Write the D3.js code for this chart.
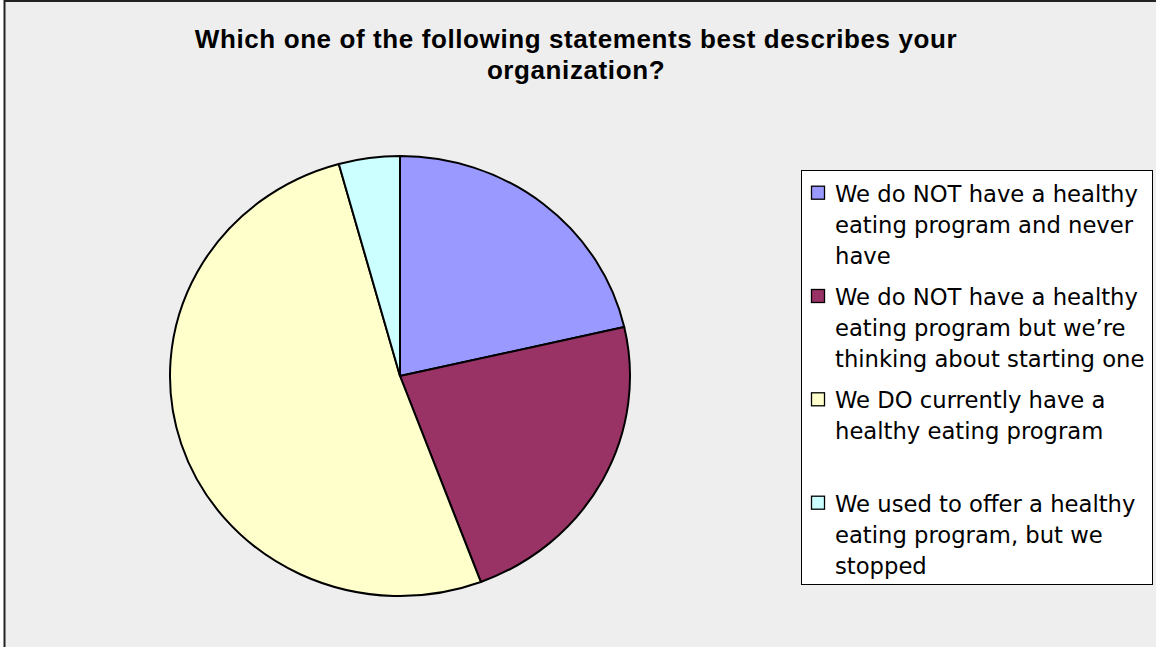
<!DOCTYPE html>
<html>
<head>
<meta charset="utf-8">
<script src="https://cdn.jsdelivr.net/npm/d3@7"></script>
<style>
  html, body { margin: 0; padding: 0; background: #ffffff; }
  svg { display: block; }
</style>
</head>
<body>
<svg id="chart" width="1156" height="647"></svg>
<script>
// Survey responses (counts)
const categories = [
  "We do NOT have a healthy eating program and never have",
  "We do NOT have a healthy eating program but we\u2019re thinking about starting one",
  "We DO currently have a healthy eating program",
  "We used to offer a healthy eating program, but we stopped"
];
const legendLines = [
  ["We do NOT have a healthy", "eating program and never", "have"],
  ["We do NOT have a healthy", "eating program but we\u2019re", "thinking about starting one"],
  ["We DO currently have a", "healthy eating program"],
  ["We used to offer a healthy", "eating program, but we", "stopped"]
];
const counts = [15, 16, 36, 3];
const colors = ["#9999FF", "#993366", "#FFFFCC", "#CCFFFF"];
const titleLines = ["Which one of the following statements best describes your", "organization?"];

const W = 1156, H = 647;
const svg = d3.select("#chart");

// Chart area background and frame (right and bottom edges run off the page)
svg.append("rect")
  .attr("x", 4.5).attr("y", 1)
  .attr("width", W + 20).attr("height", H + 20)
  .attr("fill", "#EEEEEE")
  .attr("stroke", "#222").attr("stroke-width", 2);

// Title
const title = svg.append("text")
  .attr("text-anchor", "middle")
  .attr("font-family", "'Liberation Sans', Arial, sans-serif")
  .attr("font-weight", "bold")
  .attr("font-size", 26)
  .attr("letter-spacing", 0.6)
  .attr("fill", "#000");
title.selectAll("tspan").data(titleLines).join("tspan")
  .attr("x", 576)
  .attr("y", (d, i) => 48 + i * 31)
  .text(d => d);

// Pie (slightly wider than tall)
const cx = 400, cy = 376, rx = 230, ry = 220;
const pie = d3.pie().sort(null).value(d => d);
const arc = d3.arc().innerRadius(0).outerRadius(rx);

const g = svg.append("g")
  .attr("transform", `translate(${cx},${cy}) scale(1,${ry / rx})`);
g.selectAll("path").data(pie(counts)).join("path")
  .attr("d", arc)
  .attr("fill", (d, i) => colors[i])
  .attr("stroke", "#000")
  .attr("stroke-width", 2)
  .attr("vector-effect", "non-scaling-stroke")
  .attr("stroke-linejoin", "round");

// Legend
const lx = 801, ly = 170, lw = 351, lh = 414;
svg.append("rect")
  .attr("x", lx + 0.5).attr("y", ly + 0.5)
  .attr("width", lw).attr("height", lh)
  .attr("fill", "#ffffff").attr("stroke", "#000").attr("stroke-width", 1);

const entryTops = [201.7, 305, 408.3, 511.7];
const lineGap = 31;
const lg = svg.append("g");
const entries = lg.selectAll("g.entry").data(categories).join("g")
  .attr("class", "entry");
entries.append("rect")
  .attr("x", 811.5)
  .attr("y", (d, i) => entryTops[i] - 15.5)
  .attr("width", 13).attr("height", 13)
  .attr("fill", (d, i) => colors[i])
  .attr("stroke", "#000").attr("stroke-width", 1.3);
entries.append("text")
  .attr("font-family", "'DejaVu Sans', sans-serif")
  .attr("font-size", 22.7)
  .attr("fill", "#000")
  .each(function (d, i) {
    d3.select(this).selectAll("tspan").data(legendLines[i]).join("tspan")
      .attr("x", 835)
      .attr("y", (t, j) => entryTops[i] + j * lineGap)
      .text(t => t);
  });
</script>
</body>
</html>
